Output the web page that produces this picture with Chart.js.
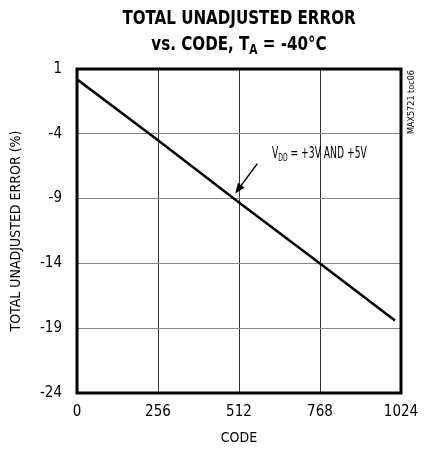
<!DOCTYPE html>
<html>
<head>
<meta charset="utf-8">
<script src="https://cdn.jsdelivr.net/npm/chart.js@4.4.1/dist/chart.umd.min.js"></script>
<style>
  html, body { margin: 0; padding: 0; background: #fff; }
  #wrap { width: 432px; height: 455px; position: relative; }
</style>
</head>
<body>
<div id="wrap"><canvas id="chart"></canvas></div>
<script>
// values
const codes = [0, 256, 512, 768, 1005];
const errorPct = [0.2, -4.5, -9.3, -14.0, -18.4];
const xTicks = [0, 256, 512, 768, 1024];
const yTicks = [1, -4, -9, -14, -19, -24];

const FONT = '"Liberation Sans Narrow", "DejaVu Sans Condensed", "Liberation Sans", sans-serif';

// draw text squeezed horizontally (no condensed font around)
function narrowText(ctx, txt, x, y, squeeze) {
    ctx.save();
    ctx.translate(x, y);
    ctx.scale(squeeze, 1);
    ctx.fillText(txt, 0, 0);
    ctx.restore();
    return ctx.measureText(txt).width * squeeze;
}

// frame, title, annotation and the little side note
const extras = {
    id: 'extras',
    afterDraw(chart) {
        const { ctx, chartArea: a, scales: { x, y } } = chart;
        ctx.save();

        // thick frame
        ctx.strokeStyle = '#000';
        ctx.lineWidth = 3;
        ctx.strokeRect(a.left, a.top, a.right - a.left, a.bottom - a.top);

        // title
        ctx.fillStyle = '#000';
        ctx.textBaseline = 'alphabetic';
        ctx.textAlign = 'left';
        const cx = (a.left + a.right) / 2;
        const sq = 0.84;
        ctx.font = 'bold 20px ' + FONT;
        const l1 = 'TOTAL UNADJUSTED ERROR';
        narrowText(ctx, l1, cx - ctx.measureText(l1).width * sq / 2, 24, sq);
        const p1 = 'vs. CODE, T', sub = 'A', p2 = ' = -40°C';
        const w1 = ctx.measureText(p1).width * sq, w2 = ctx.measureText(p2).width * sq;
        ctx.font = 'bold 14px ' + FONT;
        const ws = ctx.measureText(sub).width * sq;
        const sx = cx - (w1 + ws + w2) / 2;
        ctx.font = 'bold 20px ' + FONT;
        narrowText(ctx, p1, sx, 50, sq);
        ctx.font = 'bold 14px ' + FONT;
        narrowText(ctx, sub, sx + w1, 54, sq);
        ctx.font = 'bold 20px ' + FONT;
        narrowText(ctx, p2, sx + w1 + ws, 50, sq);

        // annotation text
        const tx = x.getPixelForValue(616), ty = y.getPixelForValue(-5.9);
        const aq = 0.68;
        ctx.font = '15px ' + FONT;
        let cur = tx;
        cur += narrowText(ctx, 'V', cur, ty, aq);
        ctx.font = '10px ' + FONT;
        cur += narrowText(ctx, 'DD', cur, ty + 3, aq);
        ctx.font = '15px ' + FONT;
        narrowText(ctx, ' = +3V AND +5V', cur, ty, aq);

        // arrow
        const x0 = x.getPixelForValue(570), y0 = y.getPixelForValue(-6.3);
        const x1 = x.getPixelForValue(500), y1 = y.getPixelForValue(-8.6);
        const ang = Math.atan2(y1 - y0, x1 - x0);
        ctx.strokeStyle = '#000';
        ctx.lineWidth = 1.5;
        ctx.beginPath();
        ctx.moveTo(x0, y0);
        ctx.lineTo(x1 - 6 * Math.cos(ang), y1 - 6 * Math.sin(ang));
        ctx.stroke();
        ctx.beginPath();
        ctx.moveTo(x1, y1);
        ctx.lineTo(x1 - 11 * Math.cos(ang - 0.38), y1 - 11 * Math.sin(ang - 0.38));
        ctx.lineTo(x1 - 11 * Math.cos(ang + 0.38), y1 - 11 * Math.sin(ang + 0.38));
        ctx.closePath();
        ctx.fill();

        // side note
        ctx.translate(a.right + 11, a.top + 1);
        ctx.rotate(-Math.PI / 2);
        ctx.font = '9px ' + FONT;
        ctx.textAlign = 'right';
        ctx.textBaseline = 'middle';
        ctx.fillText('MAX5721 toc06', 0, 0);
        ctx.restore();
    }
};

new Chart(document.getElementById('chart'), {
    type: 'scatter',
    data: {
        datasets: [{
            data: codes.map((c, i) => ({ x: c, y: errorPct[i] })),
            showLine: true,
            borderColor: '#000',
            borderWidth: 2.5,
            pointRadius: 0,
            tension: 0
        }]
    },
    options: {
        responsive: true,
        maintainAspectRatio: false,
        animation: false,
        layout: { padding: { top: 69, right: 31, left: 0, bottom: 0 } },
        plugins: { legend: { display: false }, tooltip: { enabled: false } },
        scales: {
            x: {
                type: 'linear', min: 0, max: 1024,
                afterBuildTicks: s => { s.ticks = xTicks.map(v => ({ value: v })); },
                afterFit: s => { s.height = 62; },
                grid: { color: '#333', lineWidth: 1, drawTicks: false },
                border: { display: false },
                ticks: { color: '#000', padding: 10, font: { family: FONT, size: 15 }, callback: v => String(v) },
                title: { display: true, text: 'CODE', color: '#000', padding: { top: 0, bottom: 8 }, font: { family: FONT, size: 14 } }
            },
            y: {
                type: 'linear', min: -24, max: 1,
                afterBuildTicks: s => { s.ticks = yTicks.map(v => ({ value: v })); },
                afterFit: s => { s.width = 77; },
                grid: { color: '#888', lineWidth: 1, drawTicks: false },
                border: { display: false },
                ticks: { color: '#000', padding: 15, font: { family: FONT, size: 15 }, callback: v => String(v) },
                title: { display: true, text: 'TOTAL UNADJUSTED ERROR (%)', color: '#000', padding: { top: 8, bottom: 0 }, font: { family: FONT, size: 14 } }
            }
        }
    },
    plugins: [extras]
});
</script>
</body>
</html>
